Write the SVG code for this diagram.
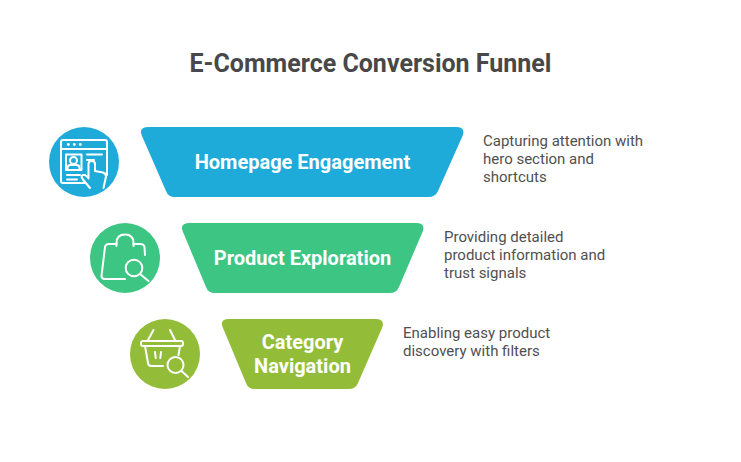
<svg xmlns="http://www.w3.org/2000/svg" width="741" height="462" viewBox="0 0 741 462">
<style>
.title{font:700 25px Roboto,sans-serif;fill:#484848;text-anchor:middle}
.lab{font:700 20px Roboto,sans-serif;fill:#fff;text-anchor:middle}
.desc{font:400 15px Roboto,sans-serif;fill:#505050}
.ic{fill:none;stroke:#fff;stroke-width:2;stroke-linecap:round;stroke-linejoin:round}
.dot{fill:#fff}
</style>
<rect width="741" height="462" fill="#fff"/>
<text class="title" x="370.500" y="72">E-Commerce Conversion Funnel</text>
<g id="connectors"/>
<g id="node-homepage">
<circle cx="84" cy="162" r="35" fill="#1eabda"/>
<g class="ic">
<path d="M85 183H63Q61 183 61 181V142Q61 140 63 140H105Q107 140 107 142V175"/>
<path d="M61 149H107"/>
<path d="M66 154.500H81.500V170H66Z"/>
<circle cx="73.500" cy="160.500" r="3.500"/>
<path d="M67.500 169.500V168Q67.500 165 70.500 165H76.500Q79.500 165 79.500 168V169.500"/>
<path d="M87 154.500H102M87 160H94M67 175H80M67 179.500H77"/>
<path d="M90 188 82.500 179Q80.500 176 83 175Q85.500 174.500 87 176.500L88.500 178.500V164Q88.500 161 91.700 161Q95 161 95 164V171L103 172.500Q106 173.500 106 176.500L103.500 188"/>
</g>
<circle class="dot" cx="68.300" cy="144.500" r="1.400"/><circle class="dot" cx="74.300" cy="144.500" r="1.400"/><circle class="dot" cx="80.300" cy="144.500" r="1.400"/>
</g>
<g id="node-product">
<circle cx="125" cy="258" r="35" fill="#3cc583"/>
<g class="ic">
<path d="M116.500 246V243Q116.500 234.500 125 234.500Q133.500 234.500 133.500 243V246"/>
<path d="M116.500 244H109Q105.500 244 105 247L101.500 276Q101.500 279 105 279H125"/>
<path d="M133.500 244H140Q144 244 144.500 247L145 255"/>
<circle cx="134" cy="268" r="8.300"/>
<path d="M140 274 148.500 281"/>
</g>
</g>
<g id="node-category">
<circle cx="165" cy="354" r="35" fill="#93bd39"/>
<g class="ic">
<path d="M143 341H181Q183 341 183 343V344Q183 346 181 346H143Q141 346 141 344V343Q141 341 143 341Z"/>
<path d="M145 346 148 363Q148.500 366 151 366H163"/>
<path d="M180 346 178.500 355"/>
<path d="M148 340 153.500 330M175 340 170 330"/>
<path d="M155 352 155.700 358M161 352 160.300 358"/>
<circle cx="175.500" cy="365" r="8"/>
<path d="M181.500 371 188 377"/>
</g>
</g>
<g id="node-stage1">
<path d="M149 127H456Q466 127 462.500 136L438 191Q435.500 197 428 197H175Q168 197 166 191L142 136Q138 127 149 127Z" fill="#1eabda"/>
<text class="lab" x="302.500" y="169">Homepage Engagement</text>
</g>
<g id="node-stage2">
<path d="M190 223H416Q426 223 422.500 232L399 287Q396.500 293 390 293H215Q208 293 206 287L183 232Q179 223 190 223Z" fill="#3cc583"/>
<text class="lab" x="302.500" y="265">Product Exploration</text>
</g>
<g id="node-stage3">
<path d="M229 319H375.500Q385.500 319 382 328L358 383Q355.500 389 349 389H255Q248 389 246 383L223 328Q219 319 229 319Z" fill="#93bd39"/>
<text class="lab" x="302.500" y="349">Category</text>
<text class="lab" x="302.500" y="373">Navigation</text>
</g>
<g id="desc-1"><text class="desc" x="483" y="146">Capturing attention with</text><text class="desc" x="483" y="164">hero section and</text><text class="desc" x="483" y="182">shortcuts</text></g>
<g id="desc-2"><text class="desc" x="444" y="242">Providing detailed</text><text class="desc" x="444" y="260">product information and</text><text class="desc" x="444" y="278">trust signals</text></g>
<g id="desc-3"><text class="desc" x="403" y="338">Enabling easy product</text><text class="desc" x="403" y="356">discovery with filters</text></g>
</svg>
